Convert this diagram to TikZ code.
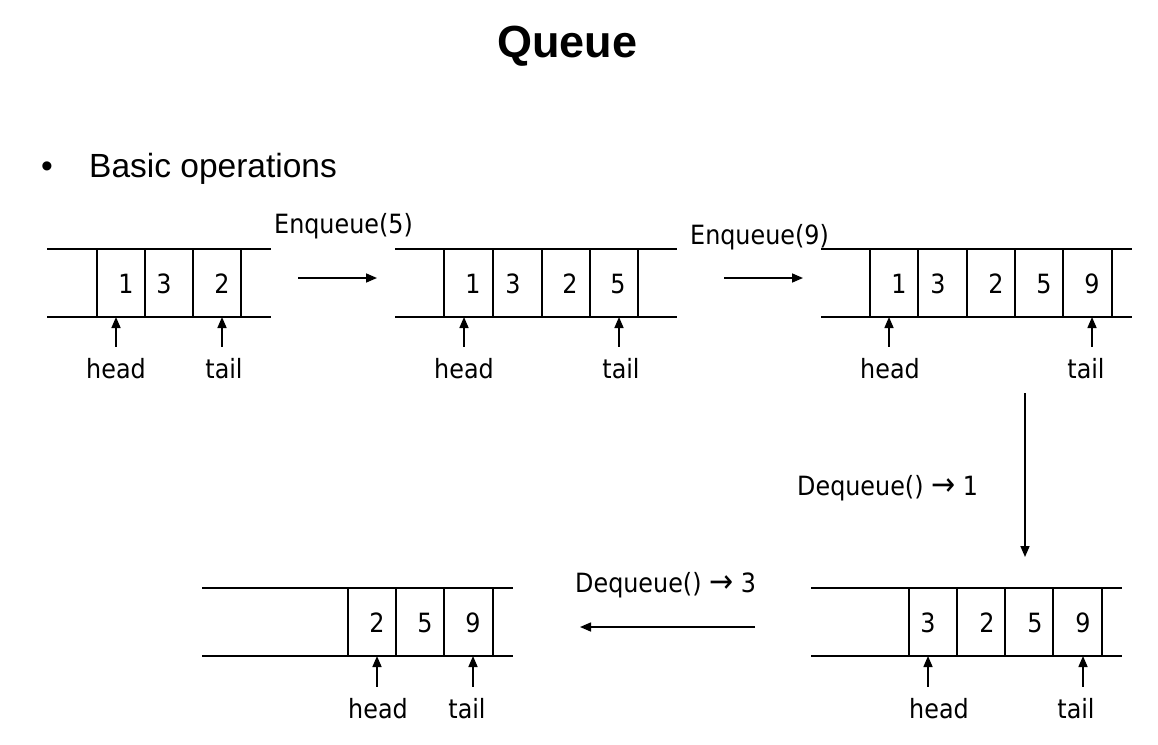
\documentclass[tikz,border=0pt]{standalone}
\usepackage{fontspec}
\setmainfont{Liberation Sans}
\newfontfamily\lblfont{DejaVu Sans Condensed}
\usetikzlibrary{arrows.meta}

\newcommand{\yields}{{\fontsize{32}{30}\selectfont →}}

\tikzset{
  rail/.style={line width=1.6pt},
  ptr/.style={line width=1.6pt, -{Triangle[length=11pt,width=9pt]}},
  num/.style={font=\lblfont\fontsize{26.5}{30}\selectfont, inner sep=0pt, anchor=base},
  lbl/.style={font=\lblfont\fontsize{26.5}{30}\selectfont, inner xsep=0pt, inner ysep=11pt, anchor=base},
  op/.style={font=\lblfont\fontsize{26.5}{30}\selectfont, inner sep=0pt, anchor=base west}
}

\begin{document}
\begin{tikzpicture}[x=1pt,y=-1pt]
	\useasboundingbox (0,0) rectangle (1158,744);
	
	\node[font=\bfseries\fontsize{45}{50}\selectfont, inner sep=0pt, anchor=base west] (title) at (497,57) {Queue};
	\node[font=\fontsize{33.5}{38}\selectfont, inner sep=0pt, anchor=base west] (bullet) at (41,177) {•};
	\node[font=\fontsize{33.5}{38}\selectfont, inner sep=0pt, anchor=base west] (basic) at (89,177) {Basic operations};
	
	% queue 1
	\draw[rail] (47,249) -- (271,249) (47,317) -- (271,317);
	\foreach \x in {97,145,193,241} \draw[rail] (\x,249) -- (\x,317);
	\node[num] at (126,293) {1};
	\node[num] at (164,293) {3};
	\node[num] at (222,293) {2};
	\coordinate (q1h) at (116,317);
	\coordinate (q1t) at (222,317);
	\node[lbl] (h1) at (116,378) {head};
	\node[lbl] (t1) at (224,378) {tail};
	\draw[ptr] (h1.north) -- (q1h);
	\draw[ptr] (t1.north -| q1t) -- (q1t);
	
	% Enqueue(5)
	\node[op] (enq5) at (274,233) {Enqueue(5)};
	\coordinate (e5a) at (298,278);
	\coordinate (e5b) at (377,278);
	\draw[ptr] (e5a) -- (e5b);
	
	% queue 2
	\draw[rail] (395,249) -- (677,249) (395,317) -- (677,317);
	\foreach \x in {444,493,542,590,638} \draw[rail] (\x,249) -- (\x,317);
	\node[num] at (473,293) {1};
	\node[num] at (513,293) {3};
	\node[num] at (570,293) {2};
	\node[num] at (618,293) {5};
	\coordinate (q2h) at (464,317);
	\coordinate (q2t) at (619,317);
	\node[lbl] (h2) at (464,378) {head};
	\node[lbl] (t2) at (621,378) {tail};
	\draw[ptr] (h2.north) -- (q2h);
	\draw[ptr] (t2.north -| q2t) -- (q2t);
	
	% Enqueue(9)
	\node[op] (enq9) at (690,244) {Enqueue(9)};
	\coordinate (e9a) at (724,278);
	\coordinate (e9b) at (803,278);
	\draw[ptr] (e9a) -- (e9b);
	
	% queue 3
	\draw[rail] (821,249) -- (1132,249) (821,317) -- (1132,317);
	\foreach \x in {870,918,967,1015,1063,1112} \draw[rail] (\x,249) -- (\x,317);
	\node[num] at (899,293) {1};
	\node[num] at (938,293) {3};
	\node[num] at (996,293) {2};
	\node[num] at (1044,293) {5};
	\node[num] at (1092,293) {9};
	\coordinate (q3h) at (889,317);
	\coordinate (q3t) at (1092,317);
	\node[lbl] (h3) at (890,378) {head};
	\node[lbl] (t3) at (1086,378) {tail};
	\draw[ptr] (h3.north -| q3h) -- (q3h);
	\draw[ptr] (t3.north -| q3t) -- (q3t);
	
	% Dequeue() -> 1
	\node[op] (deq1) at (797,495) {Dequeue() \yields{} 1};
	\coordinate (d1a) at (1025,393);
	\coordinate (d1b) at (1025,557);
	\draw[ptr] (d1a) -- (d1b);
	
	% queue 4
	\draw[rail] (811,588) -- (1122,588) (811,656) -- (1122,656);
	\foreach \x in {909,957,1005,1053,1102} \draw[rail] (\x,588) -- (\x,656);
	\node[num] at (928,632) {3};
	\node[num] at (987,632) {2};
	\node[num] at (1035,632) {5};
	\node[num] at (1083,632) {9};
	\coordinate (q4h) at (928,656);
	\coordinate (q4t) at (1083,656);
	\node[lbl] (h4) at (939,718) {head};
	\node[lbl] (t4) at (1076,718) {tail};
	\draw[ptr] (h4.north -| q4h) -- (q4h);
	\draw[ptr] (t4.north -| q4t) -- (q4t);
	
	% Dequeue() -> 3
	\node[op] (deq3) at (575,592) {Dequeue() \yields{} 3};
	\coordinate (d3a) at (755,627);
	\coordinate (d3b) at (580,627);
	\draw[ptr] (d3a) -- (d3b);
	
	% queue 5
	\draw[rail] (202,588) -- (513,588) (202,656) -- (513,656);
	\foreach \x in {348,396,444,493} \draw[rail] (\x,588) -- (\x,656);
	\node[num] at (377,632) {2};
	\node[num] at (425,632) {5};
	\node[num] at (473,632) {9};
	\coordinate (q5h) at (377,656);
	\coordinate (q5t) at (473,656);
	\node[lbl] (h5) at (378,718) {head};
	\node[lbl] (t5) at (467,718) {tail};
	\draw[ptr] (h5.north -| q5h) -- (q5h);
	\draw[ptr] (t5.north -| q5t) -- (q5t);
\end{tikzpicture}
\end{document}
